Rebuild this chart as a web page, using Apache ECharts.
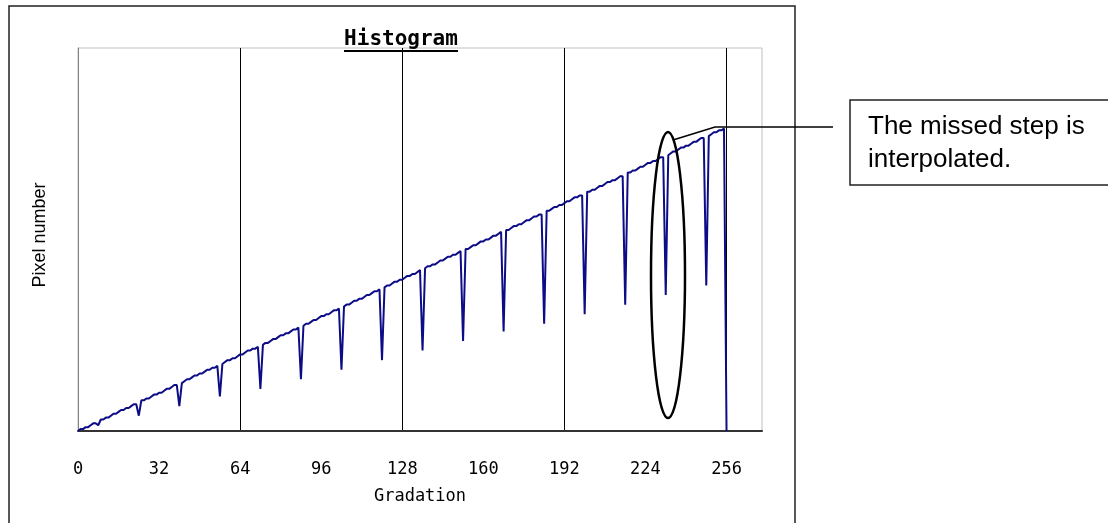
<!DOCTYPE html>
<html>
<head>
<meta charset="utf-8">
<script src="https://cdn.jsdelivr.net/npm/echarts@6/dist/echarts.min.js"></script>
<style>
html,body{margin:0;padding:0;background:#fff;}
#chart{width:1108px;height:523px;}
</style>
</head>
<body>
<div id="chart"></div>
<script>
// Pixel number for each gradation 0..256 (index = gradation)
const pixelCounts = [
  0,0.5,0.5,1,1,1.5,2,2,1.5,3,3,3.5,3.5,4,4.5,4.5,
  5,5.5,5.5,6,6,6.5,7,7,4,8,8,8.5,8.5,9,9.5,9.5,
  10,10,10.5,11,11,11.5,12,12,6.5,12.5,13,13.5,13.5,14,14.5,14.5,
  15,15,15.5,16,16,16.5,16.5,17,9,17.5,18,18.5,18.5,19,19,19.5,
  20,20,20.5,21,21,21.5,21.5,22,11,22.5,23,23,23.5,24,24,24.5,
  25,25,25.5,25.5,26,26.5,26.5,27,13.5,27.5,28,28,28.5,29,29,29.5,
  30,30,30.5,30.5,31,31.5,31.5,32,16,32.5,33,33,33.5,34,34,34.5,
  34.5,35,35.5,35.5,36,36.5,36.5,37,18.5,37.5,38,38,38.5,39,39,39.5,
  39.5,40,40.5,40.5,41,41,41.5,42,21,42.5,43,43,43.5,43.5,44,44.5,
  44.5,45,45.5,45.5,46,46,46.5,47,23.5,47.5,47.5,48,48.5,48.5,49,49.5,
  49.5,50,50,50.5,51,51,51.5,52,26,52.5,52.5,53,53.5,53.5,54,54,
  54.5,55,55,55.5,56,56,56.5,56.5,28,57.5,57.5,58,58.5,58.5,59,59,
  59.5,60,60,60.5,61,61,61.5,61.5,30.5,62.5,62.5,63,63,63.5,64,64,
  64.5,65,65,65.5,65.5,66,66.5,66.5,33,67.5,67.5,68,68,68.5,69,69,
  69.5,70,70,70.5,70.5,71,71.5,71.5,35.5,72,72.5,73,73,73.5,74,74,
  74.5,74.5,75,75.5,75.5,76,76.5,76.5,38,77,77.5,78,78,78.5,78.5,79,
  0
];
const xTickLabels = [0, 32, 64, 96, 128, 160, 192, 224, 256];
const titleText = 'Histogram';
const xAxisTitle = 'Gradation';
const yAxisTitle = 'Pixel number';
const noteLines = ['The missed step is', 'interpolated.'];

const seriesData = pixelCounts.map((v, i) => [i, v]);

const chart = echarts.init(document.getElementById('chart'), null, {renderer: 'canvas'});
const mono = '"DejaVu Sans Mono", "Liberation Mono", monospace';
const sans = '"Liberation Sans", Arial, sans-serif';

chart.setOption({
  animation: false,
  backgroundColor: '#fff',
  grid: {
    left: 78, top: 48, width: 684, height: 383,
    show: true, borderColor: '#c0c0c0', borderWidth: 1, backgroundColor: 'transparent'
  },
  xAxis: [
    {
      type: 'value', min: 0, max: 270, interval: 32,
      name: xAxisTitle, nameLocation: 'middle', nameGap: 57,
      nameTextStyle: {fontFamily: mono, fontSize: 17, color: '#000'},
      axisLine: {show: true, onZero: false, lineStyle: {color: '#333', width: 2}},
      axisTick: {show: false},
      axisLabel: {
        show: true, margin: 30, fontFamily: mono, fontSize: 17, color: '#000',
        showMaxLabel: false,
        formatter: v => (xTickLabels.indexOf(v) >= 0 ? String(v) : '')
      },
      splitLine: {show: false}
    },
    {
      type: 'value', min: 0, max: 270, interval: 64, position: 'bottom',
      axisLine: {show: false}, axisTick: {show: false}, axisLabel: {show: false},
      splitLine: {show: true, lineStyle: {color: ['transparent', '#000', '#000', '#000', '#000', 'transparent'], width: 1}}
    }
  ],
  yAxis: {
    type: 'value', min: 0, max: 100, interval: 100,
    axisLine: {show: true, lineStyle: {color: '#808080', width: 1}},
    axisTick: {show: false}, axisLabel: {show: false},
    splitLine: {show: false}
  },
  series: [{
    type: 'line', data: seriesData, xAxisIndex: 0,
    showSymbol: false, symbol: 'none',
    lineStyle: {color: '#0c0c86', width: 2},
    itemStyle: {color: '#0c0c86'},
    z: 3
  }],
  graphic: [
    {type: 'rect', shape: {x: 9, y: 6, width: 786, height: 540},
     style: {fill: 'none', stroke: '#222', lineWidth: 1.5}, silent: true, z: 0},
    {type: 'text', x: 401, y: 40,
     style: {text: titleText, font: 'bold 21px ' + mono, fill: '#000', textAlign: 'center', textVerticalAlign: 'middle'}, z: 10},
    {type: 'line', shape: {x1: 344, y1: 51, x2: 458, y2: 51},
     style: {stroke: '#000', lineWidth: 2}, z: 10},
    {type: 'text', x: 40, y: 235, rotation: Math.PI / 2,
     style: {text: yAxisTitle, font: '18px ' + sans, fill: '#000', textAlign: 'center', textVerticalAlign: 'middle'}, z: 10},
    {type: 'ellipse', shape: {cx: 668, cy: 275, rx: 17, ry: 143},
     style: {fill: 'none', stroke: '#000', lineWidth: 2.5}, z: 20},
    {type: 'polyline', shape: {points: [[673, 140], [715, 127], [833, 127]]},
     style: {fill: 'none', stroke: '#000', lineWidth: 1.5}, z: 20},
    {type: 'rect', shape: {x: 850, y: 100, width: 300, height: 85},
     style: {fill: '#fff', stroke: '#222', lineWidth: 1.5}, z: 20},
    {type: 'text', x: 868, y: 127,
     style: {text: noteLines[0], font: '26px ' + sans, fill: '#000', textVerticalAlign: 'middle'}, z: 21},
    {type: 'text', x: 868, y: 160,
     style: {text: noteLines[1], font: '26px ' + sans, fill: '#000', textVerticalAlign: 'middle'}, z: 21}
  ]
});
</script>
</body>
</html>
